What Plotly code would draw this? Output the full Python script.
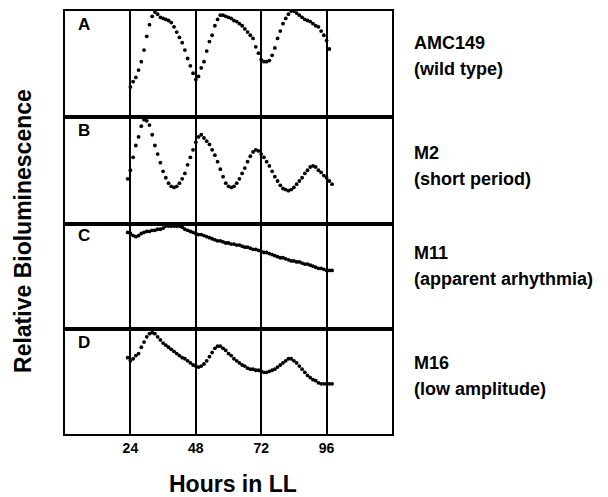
import plotly.graph_objects as go
from plotly.subplots import make_subplots

# Hours (sampled hourly)
hours_a = list(range(24, 98))
hours_bcd = list(range(23, 99))

# Relative bioluminescence (normalised to panel height)
lum_a = [0.28, 0.33, 0.37, 0.44, 0.52, 0.63, 0.76, 0.87, 0.95, 0.99,
         0.97, 0.94, 0.93, 0.92, 0.91, 0.89, 0.85, 0.80, 0.75, 0.70,
         0.63, 0.55, 0.48, 0.41, 0.35, 0.38, 0.46, 0.52, 0.62, 0.71,
         0.77, 0.86, 0.92, 0.96, 0.96, 0.95, 0.94, 0.93, 0.91, 0.90,
         0.88, 0.86, 0.83, 0.80, 0.77, 0.74, 0.66, 0.60, 0.54, 0.52,
         0.52, 0.53, 0.58, 0.65, 0.74, 0.81, 0.88, 0.93, 0.97, 1.00,
         1.00, 0.98, 0.96, 0.94, 0.92, 0.91, 0.90, 0.88, 0.86, 0.85,
         0.81, 0.77, 0.72, 0.64]

lum_b = [0.42, 0.50, 0.62, 0.73, 0.81, 0.91, 0.97, 0.96, 0.92, 0.83,
         0.73, 0.65, 0.57, 0.49, 0.43, 0.38, 0.35, 0.34, 0.35, 0.38,
         0.42, 0.47, 0.55, 0.62, 0.69, 0.76, 0.81, 0.83, 0.80, 0.77,
         0.74, 0.69, 0.64, 0.58, 0.51, 0.44, 0.38, 0.35, 0.34, 0.35,
         0.38, 0.42, 0.47, 0.52, 0.58, 0.63, 0.67, 0.69, 0.68, 0.65,
         0.62, 0.58, 0.54, 0.49, 0.44, 0.40, 0.36, 0.33, 0.32, 0.31,
         0.32, 0.34, 0.37, 0.40, 0.43, 0.47, 0.50, 0.53, 0.54, 0.53,
         0.50, 0.48, 0.45, 0.43, 0.40, 0.37]

lum_c = [0.92, 0.91, 0.89, 0.88, 0.89, 0.91, 0.92, 0.93, 0.93, 0.94,
         0.94, 0.95, 0.95, 0.96, 0.98, 0.98, 0.98, 0.98, 0.98, 0.98,
         0.97, 0.95, 0.94, 0.93, 0.92, 0.91, 0.90, 0.90, 0.89, 0.88,
         0.87, 0.86, 0.85, 0.84, 0.84, 0.83, 0.82, 0.82, 0.81, 0.81,
         0.80, 0.80, 0.79, 0.78, 0.78, 0.77, 0.76, 0.76, 0.75, 0.74,
         0.73, 0.73, 0.72, 0.71, 0.70, 0.69, 0.68, 0.68, 0.67, 0.66,
         0.65, 0.65, 0.64, 0.64, 0.63, 0.62, 0.62, 0.61, 0.60, 0.59,
         0.58, 0.58, 0.57, 0.56, 0.56, 0.56]

lum_d = [0.73, 0.70, 0.72, 0.75, 0.77, 0.83, 0.88, 0.93, 0.96, 0.97,
         0.96, 0.93, 0.90, 0.87, 0.85, 0.83, 0.81, 0.79, 0.77, 0.75,
         0.73, 0.72, 0.70, 0.68, 0.66, 0.65, 0.64, 0.65, 0.67, 0.70,
         0.74, 0.78, 0.82, 0.84, 0.84, 0.82, 0.80, 0.77, 0.75, 0.72,
         0.70, 0.68, 0.66, 0.65, 0.63, 0.62, 0.62, 0.61, 0.61, 0.60,
         0.59, 0.59, 0.60, 0.61, 0.62, 0.64, 0.66, 0.68, 0.70, 0.72,
         0.72, 0.70, 0.68, 0.65, 0.62, 0.59, 0.56, 0.54, 0.52, 0.51,
         0.49, 0.48, 0.48, 0.48, 0.48, 0.48]

panel_letters = ["A", "B", "C", "D"]
strain_names = ["AMC149", "M2", "M11", "M16"]
strain_notes = ["(wild type)", "(short period)", "(apparent arhythmia)", "(low amplitude)"]
x_ticks = [24, 48, 72, 96]
x_title = "Hours in LL"
y_title = "Relative Bioluminescence"

FONT = "Liberation Sans, Arial, Helvetica, sans-serif"
OFF = 8  # page body margin
W, H = 608 - OFF, 497 - OFF
ML, MT = 65 - OFF, 9 - OFF
MR = W - (392 - OFF)
MB = H - (434 - OFF)

fig = make_subplots(rows=4, cols=1, shared_xaxes=True, vertical_spacing=0,
                    row_heights=[106, 108, 106, 105])

series = [(hours_a, lum_a), (hours_bcd, lum_b), (hours_bcd, lum_c), (hours_bcd, lum_d)]
for i, (hx, hy) in enumerate(series):
    fig.add_trace(go.Scatter(x=hx, y=hy, mode="markers",
                             marker=dict(color="black", size=3.8, line=dict(width=0)),
                             showlegend=False), row=i + 1, col=1)

for i in range(4):
    fig.update_xaxes(range=[0, 120], tickvals=x_ticks, ticktext=[str(t) for t in x_ticks],
                     showgrid=True, gridcolor="black", gridwidth=1.6,
                     showline=True, mirror=True, linecolor="black", linewidth=2,
                     zeroline=False, ticks="", showticklabels=(i == 3),
                     tickfont=dict(family=FONT, size=14, color="black", weight="bold"),
                     row=i + 1, col=1)
    fig.update_yaxes(range=[0, 1.0], showgrid=False, zeroline=False,
                     showline=True, mirror=True, linecolor="black", linewidth=2,
                     showticklabels=False, ticks="", row=i + 1, col=1)

def py(pix):
    return 1 - (pix - OFF - MT) / (H - MT - MB)

def px(pix):
    return (pix - OFF - ML) / (W - ML - MR)

annotations = []
letter_y = [23, 129, 235, 342]
for i, L in enumerate(panel_letters):
    annotations.append(dict(x=px(84), y=py(letter_y[i]), xref="paper", yref="paper",
                            text=L, showarrow=False, xanchor="center", yanchor="middle",
                            font=dict(family=FONT, size=17, color="black", weight="bold")))

name_y = [41, 152, 252, 363]
for i in range(4):
    annotations.append(dict(x=px(412), y=py(name_y[i]), xref="paper", yref="paper",
                            text=strain_names[i], showarrow=False, xanchor="left", yanchor="middle",
                            font=dict(family=FONT, size=18, color="black", weight="bold")))
    annotations.append(dict(x=px(412), y=py(name_y[i] + 26), xref="paper", yref="paper",
                            text=strain_notes[i], showarrow=False, xanchor="left", yanchor="middle",
                            font=dict(family=FONT, size=18, color="black", weight="bold")))

annotations.append(dict(x=px(233), y=py(484), xref="paper", yref="paper", text=x_title,
                        showarrow=False, xanchor="center", yanchor="middle",
                        font=dict(family=FONT, size=23, color="black", weight="bold")))
annotations.append(dict(x=px(23), y=py(230), xref="paper", yref="paper", text=y_title,
                        showarrow=False, xanchor="center", yanchor="middle", textangle=-90,
                        font=dict(family=FONT, size=23, color="black", weight="bold")))

fig.update_layout(width=W, height=H, margin=dict(l=ML, r=MR, t=MT, b=MB),
                  paper_bgcolor="white", plot_bgcolor="white",
                  annotations=annotations, showlegend=False)

fig.write_html("out.html")
